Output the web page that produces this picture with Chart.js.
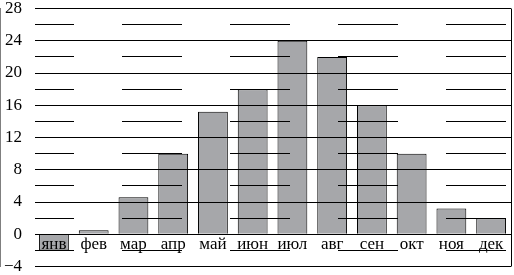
<!DOCTYPE html>
<html>
<head>
<meta charset="utf-8">
<script src="https://cdn.jsdelivr.net/npm/chart.js@4/dist/chart.umd.min.js"></script>
<style>
  html, body { margin: 0; padding: 0; background: #fff; }
  #wrap { width: 514px; height: 275px; }
</style>
</head>
<body>
<div id="wrap"><canvas id="tempChart"></canvas></div>
<script>
const months = ['янв', 'фев', 'мар', 'апр', 'май', 'июн', 'июл', 'авг', 'сен', 'окт', 'ноя', 'дек'];
const temps = [-2, 0.5, 4.6, 10, 15.2, 18, 24, 22, 16, 10, 3.2, 2];
const yMin = -4;
const yMax = 28;
const yStep = 2;

// правая рамка
const frame = {
    id: 'frame',
    afterDraw(chart) {
        const { ctx, chartArea } = chart;
        ctx.save();
        ctx.strokeStyle = '#000';
        ctx.lineWidth = 1;
        ctx.beginPath();
        ctx.moveTo(chartArea.right + 0.5, chartArea.top);
        ctx.lineTo(chartArea.right + 0.5, chartArea.bottom);
        ctx.stroke();
        ctx.restore();
    }
};

new Chart(document.getElementById('tempChart').getContext('2d'), {
    type: 'bar',
    data: {
        labels: months,
        datasets: [{
            data: temps,
            backgroundColor: '#a6a7aa',
            borderColor: '#000',
            borderWidth: 1,
            barPercentage: 0.75,
            categoryPercentage: 1
        }]
    },
    options: {
        responsive: true,
        maintainAspectRatio: false,
        animation: false,
        layout: { padding: { top: 0, right: 3, bottom: 3, left: 4 } },
        plugins: { legend: { display: false }, tooltip: { enabled: false } },
        scales: {
            x: {
                position: { y: 0 },
                grid: { display: false },
                border: { display: false },
                ticks: { color: '#000', padding: -6, z: 1, font: { family: 'Liberation Serif', size: 17, lineHeight: 1 } }
            },
            y: {
                min: yMin,
                max: yMax,
                grid: {
                    color: '#000',
                    lineWidth: 1,
                    drawTicks: true,
                    tickLength: 12,
                    tickColor: 'rgba(0,0,0,0)',
                    z: 1
                },
                border: {
                    color: '#000',
                    dash: ctx => (ctx.tick && ctx.tick.value % 4 !== 0) ? [60, 48] : [],
                    dashOffset: 21
                },
                ticks: {
                    stepSize: yStep,
                    color: '#000',
                    padding: 0,
                    autoSkip: false,
                    font: { family: 'Liberation Serif', size: 17, lineHeight: 1 },
                    callback: v => v % 4 === 0 ? String(v).replace('-', '\u2212') : ''
                }
            }
        }
    },
    plugins: [frame]
});
</script>
</body>
</html>
